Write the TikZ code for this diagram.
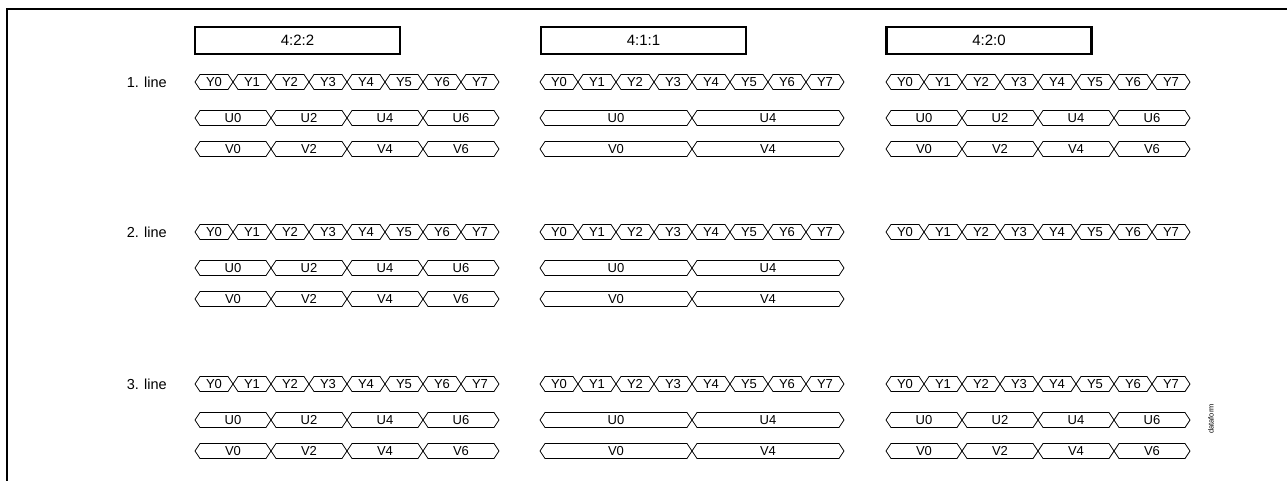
\documentclass[tikz,border=0pt]{standalone}
\usepackage{fontspec}
\setmainfont{Liberation Sans}
\tikzset{
  frame/.style={line width=2.2pt},
  titlebox/.style={draw, line width=2.6pt, minimum width=205pt, minimum height=27pt, inner sep=0pt, font=\fontsize{15}{15}\selectfont},
  cell/.style={line width=0.8pt, line join=miter},
  celltext/.style={font=\fontsize{13}{13}\selectfont, inner sep=0pt},
  rowlabel/.style={font=\fontsize{14.5}{14.5}\selectfont, anchor=east, inner sep=0pt},
  stamp/.style={font=\fontsize{7.5}{7.5}\selectfont, rotate=90, inner sep=0pt},
}
\newcommand\hexcell[5]{%
  \draw[cell] (#2,#4) -- (#2+5,#4-7.5) -- (#3-5,#4-7.5) -- (#3,#4) -- (#3-5,#4+7.5) -- (#2+5,#4+7.5) -- cycle;
  \node[celltext] (#1) at ({(#2+#3)/2},#4) {#5};
}
\begin{document}
\begin{tikzpicture}[x=1pt,y=-1pt]
\useasboundingbox (0,0) rectangle (1287,480);
\draw[frame] (7,481) -- (7,9) -- (1288,9);
\node[titlebox] (t1) at (297.5,40.5) {4:2:2};
\node[titlebox] (t2) at (643.5,40.5) {4:1:1};
\node[titlebox] (t3) at (989,40.5) {4:2:0};
\foreach \ln/\yy in {1/82,2/232,3/384} {
  \pgfmathsetmacro\yu{\yy+36}
  \pgfmathsetmacro\yv{\yy+67}
  \node[rowlabel] (lab\ln) at (167,\yy) {\ln. line};
  \foreach \cx/\ci in {195/1,540/2,886/3} {
    \foreach \k in {0,...,7} {
      \hexcell{Y\ci-\ln-\k}{\cx+38*\k}{\cx+38*\k+38}{\yy}{Y\k}
    }
  }
  \foreach \k in {0,...,3} {
    \pgfmathtruncatemacro\lbl{2*\k}
    \hexcell{U1-\ln-\k}{195+76*\k}{195+76*\k+76}{\yu}{U\lbl}
    \hexcell{V1-\ln-\k}{195+76*\k}{195+76*\k+76}{\yv}{V\lbl}
  }
  \foreach \k in {0,1} {
    \pgfmathtruncatemacro\lbl{4*\k}
    \hexcell{U2-\ln-\k}{540+152*\k}{540+152*\k+152}{\yu}{U\lbl}
    \hexcell{V2-\ln-\k}{540+152*\k}{540+152*\k+152}{\yv}{V\lbl}
  }
  \ifnum\ln=2\else
  \foreach \k in {0,...,3} {
    \pgfmathtruncatemacro\lbl{2*\k}
    \hexcell{U3-\ln-\k}{886+76*\k}{886+76*\k+76}{\yu}{U\lbl}
    \hexcell{V3-\ln-\k}{886+76*\k}{886+76*\k+76}{\yv}{V\lbl}
  }
  \fi
}
\node[stamp] (df) at (1211,419) {dataform};
\end{tikzpicture}
\end{document}
